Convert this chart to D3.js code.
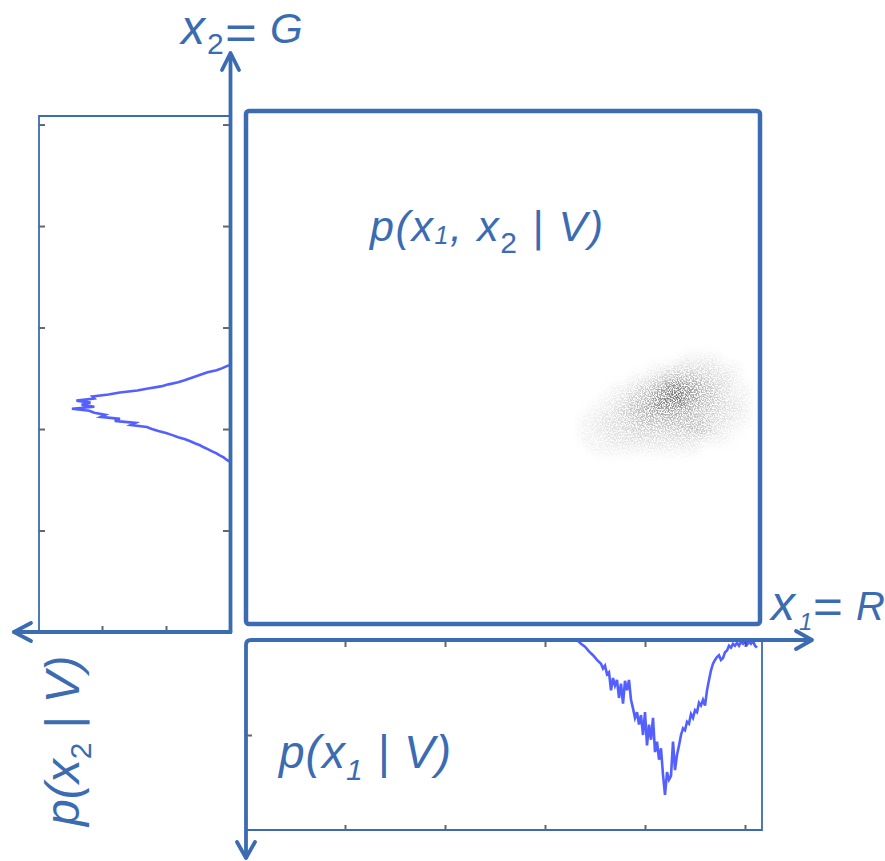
<!DOCTYPE html>
<html>
<head>
<meta charset="utf-8">
<script src="https://cdnjs.cloudflare.com/ajax/libs/d3/7.8.5/d3.min.js"></script>
<style>
  body { margin: 0; background: #fff; }
  svg { display: block; }
  text { font-family: "Liberation Sans", Arial, sans-serif; fill: #3b6cb2; }
  .tick line { stroke: #666; stroke-width: 2; }
</style>
</head>
<body>
<svg id="chart" width="885" height="861"></svg>
<script>
const axisBlue = '#3b6cb2';
const curveBlue = '#2233ff';

// p(x2 | V): [G level, density x1e-3]
const pGreen = [
  [82, 4.2], [83, 4.6], [84, 5.1], [85, 5.6], [86, 6.0], [87, 6.6], [88, 7.1], [89, 7.8],
  [90, 8.4], [91, 9.1], [92, 9.7], [93, 10.5], [94, 11.2], [95, 12.0], [96, 13.1], [97, 14.0],
  [98, 15.0], [99, 16.2], [100, 17.2], [101, 18.0], [102, 20.5], [103, 19.8], [104, 23.0],
  [105, 22.2], [106, 25.2], [107, 24.5], [108, 26.2], [109, 27.0], [110, 29.7], [111, 26.2],
  [112, 28.2], [113, 26.8], [114, 29.0], [115, 26.2], [116, 26.5], [117, 24.0], [118, 22.2],
  [119, 19.5], [120, 17.8], [121, 15.8], [122, 14.6], [123, 13.1], [124, 12.1], [125, 11.2],
  [126, 10.3], [127, 9.4], [128, 8.5], [129, 7.1], [130, 6.2], [131, 5.5], [132, 4.5]
];

// p(x1 | V): [R level, density x1e-3]
const pRed = [
  [160, 4.2], [163, 4.6], [166, 5.0], [168, 5.4], [170, 5.7], [172, 6.2], [174, 6.6], [176, 7.1],
  [178, 7.5], [179, 8.0], [180, 7.7], [181, 8.6], [182, 8.4], [183, 10.3], [184, 9.0], [185, 9.8],
  [186, 9.2], [187, 11.1], [188, 9.6], [189, 11.7], [190, 9.3], [191, 10.3], [192, 9.2], [193, 11.3],
  [194, 12.2], [195, 13.2], [196, 12.6], [197, 13.9], [198, 12.9], [199, 15.0], [200, 12.6],
  [201, 16.1], [202, 13.9], [203, 15.5], [204, 13.2], [205, 16.8], [206, 15.7], [207, 17.6],
  [208, 16.4], [209, 19.2], [210, 21.3], [211, 18.9], [212, 19.7], [213, 19.3], [214, 15.7],
  [215, 18.7], [216, 17.1], [217, 16.1], [218, 15.0], [219, 14.3], [220, 14.5], [221, 13.6],
  [222, 13.8], [223, 12.8], [224, 13.2], [225, 12.4], [226, 12.6], [227, 11.6], [228, 11.9],
  [229, 11.3], [230, 11.9], [231, 10.3], [232, 9.2], [233, 8.2], [234, 7.5], [235, 7.1],
  [236, 6.8], [237, 6.6], [238, 7.1], [239, 6.9], [240, 6.3], [241, 6.1], [242, 5.6], [243, 5.8],
  [244, 5.4], [245, 5.6], [246, 5.3], [247, 5.6], [248, 5.2], [249, 5.4], [250, 5.1], [251, 5.5],
  [252, 5.2], [253, 5.4], [254, 5.1], [255, 5.6], [256, 5.8]
];

// p(x1, x2 | V) read as a coarse grid of darkness (0-9)
const cloudR = [165, 170, 175, 180, 185, 190, 195, 200, 205, 210, 215, 220, 225, 230, 235, 240, 245, 250];
const cloudG = [135, 130, 125, 120, 115, 110, 105, 100, 95, 90, 85];
const cloudDensity = [
  [0, 0, 0, 0, 0, 0, 0, 0, 0, 0, 0, 1, 1, 1, 1, 0, 0, 0],
  [0, 0, 0, 0, 0, 0, 0, 0, 1, 1, 2, 2, 2, 2, 2, 1, 1, 0],
  [0, 0, 0, 0, 0, 0, 1, 1, 2, 3, 4, 4, 4, 3, 2, 2, 1, 0],
  [0, 0, 0, 0, 1, 1, 2, 3, 4, 6, 8, 7, 5, 4, 3, 2, 1, 1],
  [0, 0, 0, 1, 1, 2, 3, 4, 6, 8, 9, 7, 5, 4, 3, 2, 1, 1],
  [0, 0, 1, 1, 2, 3, 4, 5, 6, 6, 6, 5, 4, 3, 3, 2, 2, 1],
  [0, 1, 1, 2, 2, 3, 3, 4, 4, 4, 4, 4, 3, 3, 2, 2, 1, 1],
  [0, 1, 1, 2, 2, 2, 3, 3, 3, 3, 3, 3, 4, 4, 2, 1, 1, 0],
  [0, 1, 1, 1, 2, 2, 2, 2, 2, 2, 2, 2, 2, 1, 1, 1, 0, 0],
  [0, 0, 1, 1, 1, 1, 1, 1, 1, 1, 1, 1, 1, 0, 0, 0, 0, 0],
  [0, 0, 0, 0, 0, 0, 0, 0, 0, 0, 0, 0, 0, 0, 0, 0, 0, 0]
];

const colorTicks = [50, 100, 150, 200, 250];
const pGreenTicks = [15, 25];
const pRedTicks = [15];

const svg = d3.select('#chart');

var xScale = d3.scaleLinear([0, 255], [245, 755]),
    yScale = d3.scaleLinear([0, 255], [632, 114.4]),
    pgScale = d3.scaleLinear([5, 35], [230, 38]),
    prScale = d3.scaleLinear([5, 25], [640, 830]);

const defs = svg.append('defs');
defs.append('clipPath').attr('id', 'clipLeft')
    .append('rect').attr('x', 39).attr('y', 116).attr('width', 190).attr('height', 515);
defs.append('clipPath').attr('id', 'clipBottom')
    .append('rect').attr('x', 247).attr('y', 641).attr('width', 514).attr('height', 188);

// soft blur, then speckle it so it reads like a cloud of pixels
const cloudFilter = defs.append('filter').attr('id', 'cloud')
    .attr('x', '-30%').attr('y', '-30%').attr('width', '160%').attr('height', '160%');
cloudFilter.append('feGaussianBlur').attr('in', 'SourceGraphic').attr('stdDeviation', 5).attr('result', 'b');
cloudFilter.append('feTurbulence').attr('type', 'fractalNoise').attr('baseFrequency', 0.75)
    .attr('numOctaves', 2).attr('seed', 7).attr('result', 'n');
cloudFilter.append('feColorMatrix').attr('in', 'n').attr('type', 'matrix')
    .attr('values', '0 0 0 0 0  0 0 0 0 0  0 0 0 0 0  4.5 0 0 0 -1.7').attr('result', 'grain');
cloudFilter.append('feComposite').attr('in', 'b').attr('in2', 'grain')
    .attr('operator', 'arithmetic').attr('k1', 1.4).attr('k2', 0).attr('k3', 0).attr('k4', 0);

// joint density cloud
const cells = [];
cloudG.forEach((g, i) => cloudR.forEach((r, j) => cells.push({ r: r, g: g, v: cloudDensity[i][j] })));
svg.append('g').attr('filter', 'url(#cloud)')
  .selectAll('rect')
  .data(cells.filter(d => d.v > 0))
  .enter()
  .append('rect')
  .attr('x', d => xScale(d.r - 2.5))
  .attr('y', d => yScale(d.g + 2.5))
  .attr('width', xScale(5) - xScale(0))
  .attr('height', yScale(0) - yScale(5))
  .attr('fill', '#000')
  .attr('fill-opacity', d => d.v * 0.048);

// main square
svg.append('rect')
  .attr('x', 246).attr('y', 111).attr('width', 514).attr('height', 513).attr('rx', 3)
  .attr('fill', 'none').attr('stroke', axisBlue).attr('stroke-width', 4.5);

// left marginal box
svg.append('path').attr('d', 'M230,116 H39 V632')
  .attr('fill', 'none').attr('stroke', axisBlue).attr('stroke-width', 1.8);

svg.append('g').attr('transform', 'translate(39,0)')
  .call(d3.axisLeft(yScale).tickValues(colorTicks).tickSize(-6).tickFormat(''))
  .call(g => g.select('.domain').remove());
svg.append('g').attr('transform', 'translate(229,0)')
  .call(d3.axisRight(yScale).tickValues(colorTicks).tickSize(-6).tickFormat(''))
  .call(g => g.select('.domain').remove());
svg.append('g').attr('transform', 'translate(0,630)')
  .call(d3.axisBottom(pgScale).tickValues(pGreenTicks).tickSize(-4).tickFormat(''))
  .call(g => g.select('.domain').remove());

svg.append('path')
  .datum(pGreen)
  .attr('clip-path', 'url(#clipLeft)')
  .attr('d', d3.line().x(d => pgScale(d[1])).y(d => yScale(d[0])))
  .attr('fill', 'none').attr('stroke', curveBlue).attr('stroke-width', 2.6).attr('stroke-opacity', 0.78);

// bottom marginal box
svg.append('path').attr('d', 'M246,830 H762 V640')
  .attr('fill', 'none').attr('stroke', axisBlue).attr('stroke-width', 1.8);

svg.append('g').attr('transform', 'translate(0,641)')
  .call(d3.axisTop(xScale).tickValues(colorTicks).tickSize(-6).tickFormat(''))
  .call(g => g.select('.domain').remove());
svg.append('g').attr('transform', 'translate(0,830)')
  .call(d3.axisBottom(xScale).tickValues(colorTicks).tickSize(-5).tickFormat(''))
  .call(g => g.select('.domain').remove());
svg.append('g').attr('transform', 'translate(247,0)')
  .call(d3.axisLeft(prScale).tickValues(pRedTicks).tickSize(-5).tickFormat(''))
  .call(g => g.select('.domain').remove());

svg.append('path')
  .datum(pRed)
  .attr('clip-path', 'url(#clipBottom)')
  .attr('d', d3.line().x(d => xScale(d[0])).y(d => prScale(d[1])))
  .attr('fill', 'none').attr('stroke', curveBlue).attr('stroke-width', 2.6).attr('stroke-opacity', 0.78);

// axis arrows
const arrows = [
  'M230.5,632 V54', 'M222,70 L230.5,53 L239,70',
  'M230.5,632 H14', 'M31,623 L14,632 L31,641',
  'M246,857 V645 Q246,640 251,640 H811', 'M796,631 L812,640 L796,649',
  'M237,842 L246,858 L255,842'
];
svg.append('g').selectAll('path')
  .data(arrows)
  .enter()
  .append('path')
  .attr('d', d => d)
  .attr('fill', 'none').attr('stroke', axisBlue).attr('stroke-width', 3.8)
  .attr('stroke-linecap', 'round').attr('stroke-linejoin', 'round');

// labels
function label(x, y, txt, size, italic, extra) {
  const t = svg.append('text').attr('x', x).attr('y', y)
    .attr('font-size', size).attr('font-style', italic ? 'italic' : 'normal').text(txt);
  if (extra) extra(t);
  return t;
}

// x2 = G
label(181, 44, 'x', 48, true);
label(207, 54, '2', 30, false);
label(225, 49, '=', 48, false, t => t.attr('textLength', 32).attr('lengthAdjust', 'spacingAndGlyphs'));
label(270, 43, 'G', 42, true);

// x1 = R
label(771, 620, 'x', 48, true);
label(799, 630, '1', 24, true);
label(813, 623, '=', 48, false, t => t.attr('textLength', 30).attr('lengthAdjust', 'spacingAndGlyphs'));
label(856, 620, 'R', 40, true);

// p(x1, x2 | V)
const joint = svg.append('text').attr('x', 370).attr('y', 241)
  .attr('font-size', 43).attr('font-style', 'italic').attr('letter-spacing', 1.6);
joint.append('tspan').text('p(x');
joint.append('tspan').attr('font-size', 25).attr('dy', 3).text('1');
joint.append('tspan').attr('dy', -3).text(', x');
joint.append('tspan').attr('font-size', 30).attr('font-style', 'normal').attr('dy', 12).text('2');
joint.append('tspan').attr('dy', -12).text(' | V)');

// p(x1 | V)
const marg1 = svg.append('text').attr('x', 279).attr('y', 768)
  .attr('font-size', 46).attr('font-style', 'italic').attr('letter-spacing', 1);
marg1.append('tspan').text('p(x');
marg1.append('tspan').attr('font-size', 30).attr('dy', 12).text('1');
marg1.append('tspan').attr('dy', -12).text(' | V)');

// p(x2 | V), rotated
const marg2 = svg.append('text').attr('transform', 'translate(79,826) rotate(-90)')
  .attr('font-size', 48).attr('font-style', 'italic');
marg2.append('tspan').text('p(x');
marg2.append('tspan').attr('font-size', 30).attr('font-style', 'normal').attr('dy', 12).text('2');
marg2.append('tspan').attr('dy', -12).text(' | V)');
</script>
</body>
</html>
